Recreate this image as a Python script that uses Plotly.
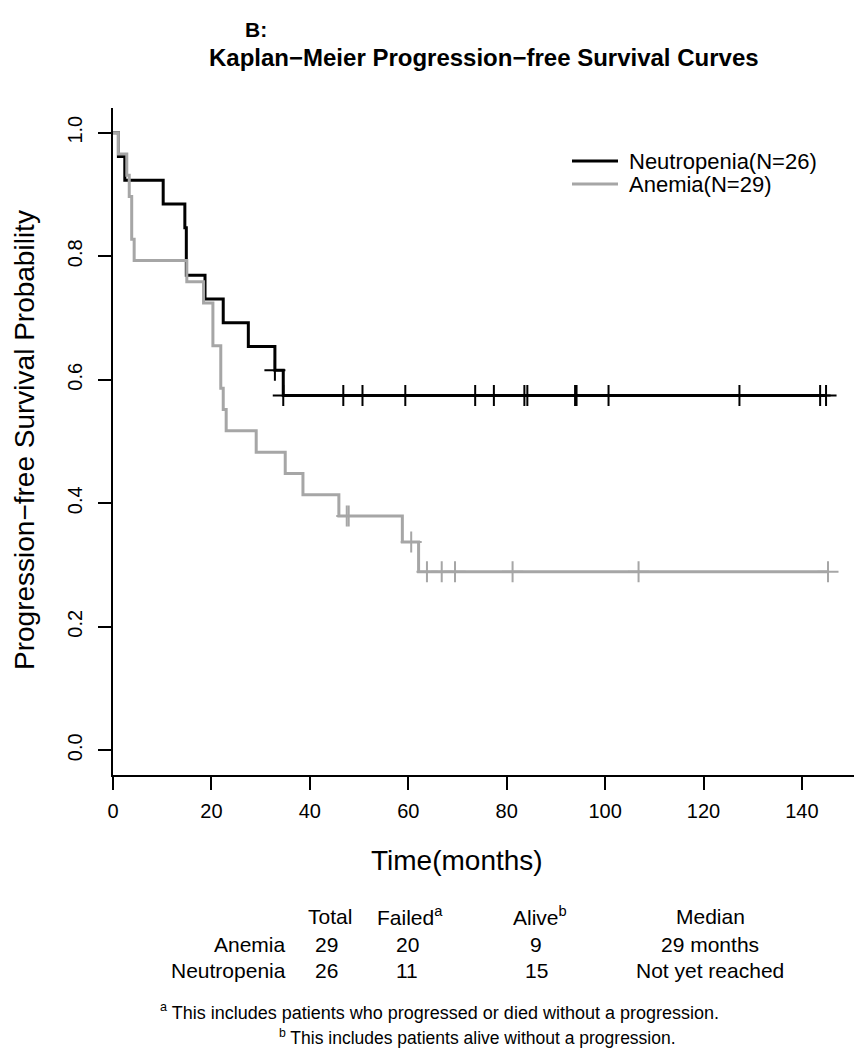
import numpy as np
import plotly.graph_objects as go

# ---------------- data ----------------
groups = ["Neutropenia", "Anemia"]
group_n = [26, 29]
legend_labels = ["Neutropenia(N=26)", "Anemia(N=29)"]

neut_event_times = [1.1, 2.4, 10.2, 14.6, 14.9, 18.7, 22.4, 27.5, 32.9, 34.6]
neut_event_counts = [1, 1, 1, 1, 2, 1, 1, 1, 1, 1]
neut_censor_times = [32.9, 34.6, 46.8, 50.7, 59.4, 73.6, 77.4, 83.6, 84.2,
                     93.9, 94.2, 100.7, 127.3, 143.7, 144.9]

anem_event_times = [1.1, 2.8, 3.3, 3.8, 4.3, 15.0, 18.4, 20.3, 21.9, 22.4,
                    23.0, 29.1, 35.0, 38.6, 45.9, 58.8, 62.1]
anem_event_counts = [1, 1, 1, 2, 1, 1, 1, 2, 2, 1, 1, 1, 1, 1, 1, 1, 1]
anem_censor_times = [47.5, 47.9, 60.6, 63.8, 66.8, 69.5, 81.2, 106.8, 145.3]

x_ticks = [0, 20, 40, 60, 80, 100, 120, 140]
y_ticks = [0.0, 0.2, 0.4, 0.6, 0.8, 1.0]
y_ticklabels = ["0.0", "0.2", "0.4", "0.6", "0.8", "1.0"]

table_cols = ["Total", "Failed<sup>a</sup>", "Alive<sup>b</sup>", "Median"]
table_rows = ["Anemia", "Neutropenia"]
table_total = ["29", "26"]
table_failed = ["20", "11"]
table_alive = ["9", "15"]
table_median = ["29 months", "Not yet reached"]

footnote_a = "<sup>a</sup> This includes patients who progressed or died without a progression."
footnote_b = "<sup>b</sup> This includes patients alive without a progression."


def km(n, ev_t, ev_c, cen_t):
    """Kaplan-Meier step curve and censor-mark levels."""
    times = sorted(set(ev_t) | set(cen_t))
    ev = dict(zip(ev_t, ev_c))
    cen = {}
    for t in cen_t:
        cen[t] = cen.get(t, 0) + 1
    at_risk = n
    s = 1.0
    xs, ys = [0.0], [1.0]
    cx, cy = [], []
    for t in times:
        d = ev.get(t, 0)
        if d:
            s = s * (at_risk - d) / at_risk
            at_risk -= d
        xs.append(t)
        ys.append(s)
        c = cen.get(t, 0)
        if c:
            for _ in range(c):
                cx.append(t)
                cy.append(s)
            at_risk -= c
    return xs, ys, cx, cy


# ---------------- layout geometry ----------------
OFF = 8                     # page body margin
W, H = 854, 1042
ML, MR, MT, MB = 105, 2, 100, 275
PW = W - ML - MR
PH = H - MT - MB


def px(xpage):
    return (xpage - OFF - ML) / PW


def py(ypage):
    return (H - MB - (ypage - OFF)) / PH


BLACK = "#000000"
GREY = "#a6a6a6"
FONT = "Liberation Sans, Arial, sans-serif"

fig = go.Figure()

specs = [
    (legend_labels[0], group_n[0], neut_event_times, neut_event_counts, neut_censor_times, BLACK),
    (legend_labels[1], group_n[1], anem_event_times, anem_event_counts, anem_censor_times, GREY),
]

for name, n, et, ec, ct, col in specs:
    xs, ys, cx, cy = km(n, et, ec, ct)
    fig.add_trace(go.Scatter(x=xs, y=ys, mode="lines", line=dict(color=col, width=3, shape="hv"),
                             name=name, showlegend=False))
    fig.add_trace(go.Scatter(x=cx, y=cy, mode="markers",
                             marker=dict(symbol="cross-thin", size=15,
                                         line=dict(color=col, width=2)),
                             showlegend=False, hoverinfo="skip"))

fig.update_layout(
    width=W, height=H,
    margin=dict(l=ML, r=MR, t=MT, b=MB),
    paper_bgcolor="white", plot_bgcolor="white",
    font=dict(family=FONT, color="black"),
    showlegend=False,
)

fig.update_xaxes(range=[0, 151.8], showgrid=False, zeroline=False,
                 showline=True, linecolor="black", linewidth=2,
                 ticks="outside", ticklen=13, tickwidth=1.5, tickcolor="black",
                 tickvals=x_ticks, tickfont=dict(size=20, family=FONT),
                 ticklabelstandoff=4)
fig.update_yaxes(range=[-0.04, 1.04], showgrid=False, zeroline=False,
                 showline=True, linecolor="black", linewidth=2,
                 ticks="outside", ticklen=13, tickwidth=1.5, tickcolor="black",
                 tickvals=y_ticks, ticktext=y_ticklabels, tickangle=-90,
                 tickfont=dict(size=20, family=FONT), ticklabelstandoff=8)

ann = []
shapes = []


def text(x, y, s, size, bold=False, xanchor="center", angle=0):
    ann.append(dict(x=px(x), y=py(y), xref="paper", yref="paper",
                    text=("<b>%s</b>" % s) if bold else s,
                    showarrow=False, xanchor=xanchor, yanchor="middle", textangle=angle,
                    font=dict(size=size, family=FONT, color="black")))


# legend (drawn as line samples + labels)
leg_y = [161, 184]
for lbl, yv, col in zip(legend_labels, leg_y, [BLACK, GREY]):
    shapes.append(dict(type="line", xref="paper", yref="paper",
                       x0=px(572), x1=px(618), y0=py(yv), y1=py(yv),
                       line=dict(color=col, width=3)))
    text(627, yv, lbl, 22, xanchor="left")

text(243, 30, "B:", 21, bold=True, xanchor="left")
text(484, 58, "Kaplan\u2212Meier Progression\u2212free Survival Curves", 24, bold=True)
text(24, 440, "Progression\u2212free Survival Probability", 28, angle=-90)
text(457, 860, "Time(months)", 28)

# table
col_x = [330, 410, 540, 710]
hdr_y = 916
row_y = [944, 971]
for cx_, h in zip(col_x, table_cols):
    text(cx_, hdr_y, h, 21)
for i, r in enumerate(table_rows):
    text(288, row_y[i], r, 21, xanchor="right")
    text(col_x[0] - 4, row_y[i], table_total[i], 21)
    text(col_x[1] - 3, row_y[i], table_failed[i], 21)
    text(col_x[2] - 4, row_y[i], table_alive[i], 21)
    text(col_x[3], row_y[i], table_median[i], 21)

text(158, 1012, footnote_a, 18, xanchor="left")
text(277, 1037, footnote_b, 17.5, xanchor="left")

fig.update_layout(annotations=ann, shapes=shapes)

fig.write_html("out.html")
